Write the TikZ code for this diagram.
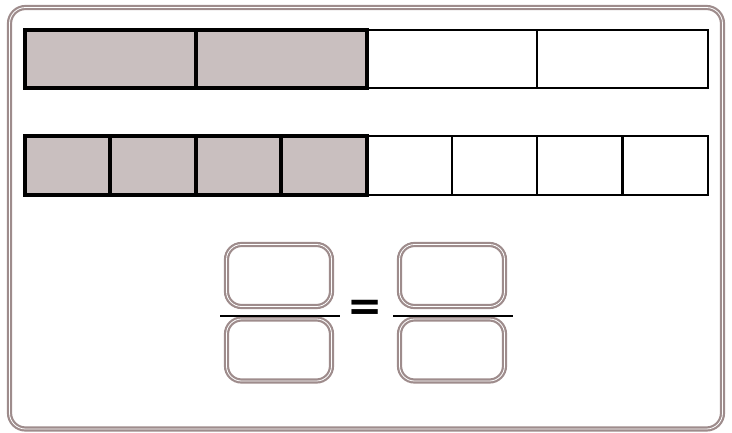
\documentclass[tikz,border=0pt]{standalone}
\usepackage{fontspec}
\usepackage{xcolor}
\usepackage{tikz}
\usetikzlibrary{positioning}
\newfontfamily\eqfont{DejaVu Sans}
\definecolor{frame}{HTML}{9E8C8C}
\definecolor{shade}{HTML}{C9BFBF}
\tikzset{
  cell/.style={rectangle, draw=black, fill=white, line width=2.4pt, anchor=north west,
               inner sep=0pt, outer sep=0pt},
  shadecell/.style={cell, fill=shade, line width=4pt},
  fracbox/.style={rectangle, rounded corners=15pt, draw=frame, double=white, double distance=0.8pt,
                  line width=2.2pt, minimum width=105pt, minimum height=62pt, inner sep=0pt},
  fracline/.style={draw=black, line width=2.4pt},
  card/.style={draw=frame, double=white, double distance=0.8pt, line width=2.2pt, rounded corners=16pt}
}
\begin{document}
\begin{tikzpicture}[x=1pt, y=-1pt]
  \useasboundingbox (0,0) rectangle (732,432);
  % outer card
  \draw[card] (9.5,7.5) rectangle (722.5,429);
  % top bar: quarters
  \foreach \i in {2,3}
    \node[cell, minimum width=170.75pt, minimum height=58pt] (q\i) at ({25+\i*170.75},30) {};
  \foreach \i in {0,1}
    \node[shadecell, minimum width=170.75pt, minimum height=58pt] (q\i) at ({25+\i*170.75},30) {};
  % lower bar: eighths
  \foreach \i in {4,...,7}
    \node[cell, minimum width=85.375pt, minimum height=59pt] (e\i) at ({25+\i*85.375},136) {};
  \foreach \i in {0,...,3}
    \node[shadecell, minimum width=85.375pt, minimum height=59pt] (e\i) at ({25+\i*85.375},136) {};
  % fractions
  \node[fracbox] (lnum) at (279,275.5) {};
  \node[fracbox] (lden) at (279,350) {};
  \node[fracbox] (rnum) at (452,275.5) {};
  \node[fracbox] (rden) at (452,350) {};
  \draw[fracline] (220,316) -- (340,316);
  \draw[fracline] (393,316) -- (513,316);
  \node[font=\fontsize{42}{42}\selectfont\eqfont\bfseries, inner sep=0pt] (eq) at (365.5,310) {=};
\end{tikzpicture}
\end{document}
